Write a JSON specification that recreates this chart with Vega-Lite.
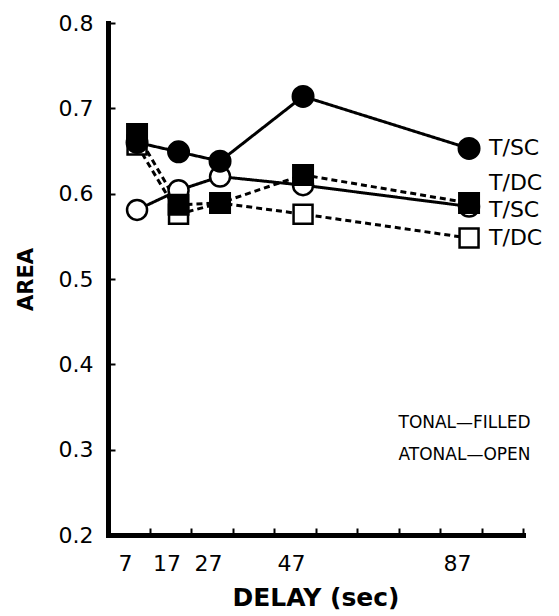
{
  "$schema": "https://vega.github.io/schema/vega-lite/v6.json",
  "width": 415,
  "height": 512,
  "autosize": {"type": "none"},
  "padding": {"left": 108, "top": 23, "right": 36, "bottom": 81},
  "background": "white",
  "config": {"view": {"stroke": null}},
  "datasets": {
    "curves": [
      {"series": "A/SC", "delay": 7, "area": 0.581},
      {"series": "A/SC", "delay": 17, "area": 0.604},
      {"series": "A/SC", "delay": 27, "area": 0.62},
      {"series": "A/SC", "delay": 47, "area": 0.61},
      {"series": "A/SC", "delay": 87, "area": 0.585},
      {"series": "A/DC", "delay": 7, "area": 0.657},
      {"series": "A/DC", "delay": 17, "area": 0.576},
      {"series": "A/DC", "delay": 27, "area": 0.589},
      {"series": "A/DC", "delay": 47, "area": 0.576},
      {"series": "A/DC", "delay": 87, "area": 0.548},
      {"series": "T/SC", "delay": 7, "area": 0.66},
      {"series": "T/SC", "delay": 17, "area": 0.649},
      {"series": "T/SC", "delay": 27, "area": 0.638},
      {"series": "T/SC", "delay": 47, "area": 0.714},
      {"series": "T/SC", "delay": 87, "area": 0.653},
      {"series": "T/DC", "delay": 7, "area": 0.67},
      {"series": "T/DC", "delay": 17, "area": 0.587},
      {"series": "T/DC", "delay": 27, "area": 0.589},
      {"series": "T/DC", "delay": 47, "area": 0.622},
      {"series": "T/DC", "delay": 87, "area": 0.589}
    ],
    "labels": [
      {"delay": 87, "area": 0.653, "label": "T/SC"},
      {"delay": 87, "area": 0.6125, "label": "T/DC"},
      {"delay": 87, "area": 0.581, "label": "T/SC"},
      {"delay": 87, "area": 0.548, "label": "T/DC"}
    ],
    "notes": [
      {"delay": 70, "area": 0.331, "label": "TONAL—FILLED"},
      {"delay": 70, "area": 0.294, "label": "ATONAL—OPEN"}
    ]
  },
  "resolve": {"axis": {"x": "independent", "y": "independent"}},
  "layer": [
    {
      "data": {"name": "curves"},
      "mark": {"type": "line", "strokeWidth": 3, "color": "black"},
      "encoding": {
        "x": {
          "field": "delay", "type": "quantitative",
          "scale": {"domain": [0, 100], "nice": false, "zero": false},
          "axis": {
            "orient": "bottom",
            "values": [10, 20, 30, 40, 50, 60, 70, 80, 90, 100],
            "labels": false, "title": null, "grid": false,
            "tickSize": -7, "tickWidth": 2, "tickColor": "black",
            "domainWidth": 5, "domainColor": "black", "domainCap": "square"
          }
        },
        "y": {
          "field": "area", "type": "quantitative",
          "scale": {"domain": [0.2, 0.8], "nice": false, "zero": false},
          "axis": {
            "orient": "left",
            "values": [0.2, 0.3, 0.4, 0.5, 0.6, 0.7, 0.8],
            "format": ".1f", "grid": false,
            "tickSize": -7, "tickWidth": 2, "tickColor": "black",
            "domainWidth": 5, "domainColor": "black", "domainCap": "square",
            "labelFont": "DejaVu Sans", "labelFontSize": 22, "labelColor": "black",
            "labelPadding": 22,
            "title": "AREA", "titleFont": "DejaVu Sans", "titleFontSize": 21,
            "titleFontWeight": "bold", "titleColor": "black", "titlePadding": 22
          }
        },
        "detail": {"field": "series"},
        "strokeDash": {
          "field": "series", "type": "nominal",
          "scale": {"domain": ["T/SC", "A/SC", "T/DC", "A/DC"], "range": [[1, 0], [1, 0], [6, 4], [6, 4]]},
          "legend": null
        }
      }
    },
    {
      "data": {"name": "curves"},
      "mark": {"type": "point", "filled": true, "stroke": "black", "strokeWidth": 2.5, "opacity": 1},
      "encoding": {
        "x": {
          "field": "delay", "type": "quantitative",
          "axis": {
            "orient": "bottom",
            "values": [7, 17, 27, 47, 87],
            "ticks": false, "domain": false, "grid": false,
            "labelOffset": -12, "labelPadding": 18, "labelOverlap": false, "labelFlush": false,
            "labelFont": "DejaVu Sans", "labelFontSize": 22, "labelColor": "black",
            "title": "DELAY (sec)", "titleFont": "DejaVu Sans", "titleFontSize": 25,
            "titleFontWeight": "bold", "titleColor": "black", "titlePadding": 11
          }
        },
        "y": {"field": "area", "type": "quantitative", "axis": null},
        "shape": {
          "field": "series", "type": "nominal",
          "scale": {"domain": ["T/SC", "A/SC", "T/DC", "A/DC"], "range": ["circle", "circle", "square", "square"]},
          "legend": null
        },
        "fill": {
          "field": "series", "type": "nominal",
          "scale": {"domain": ["T/SC", "A/SC", "T/DC", "A/DC"], "range": ["black", "white", "black", "white"]},
          "legend": null
        },
        "size": {
          "field": "series", "type": "nominal",
          "scale": {"domain": ["T/SC", "A/SC", "T/DC", "A/DC"], "range": [420, 360, 230, 170]},
          "legend": null
        }
      }
    },
    {
      "data": {"name": "labels"},
      "mark": {"type": "text", "align": "left", "baseline": "middle", "dx": 20, "font": "DejaVu Sans", "fontSize": 22, "color": "black"},
      "encoding": {
        "x": {"field": "delay", "type": "quantitative", "axis": null},
        "y": {"field": "area", "type": "quantitative", "axis": null},
        "text": {"field": "label"}
      }
    },
    {
      "data": {"name": "notes"},
      "mark": {"type": "text", "align": "left", "baseline": "middle", "font": "DejaVu Sans", "fontSize": 17, "color": "black"},
      "encoding": {
        "x": {"field": "delay", "type": "quantitative", "axis": null},
        "y": {"field": "area", "type": "quantitative", "axis": null},
        "text": {"field": "label"}
      }
    }
  ]
}
